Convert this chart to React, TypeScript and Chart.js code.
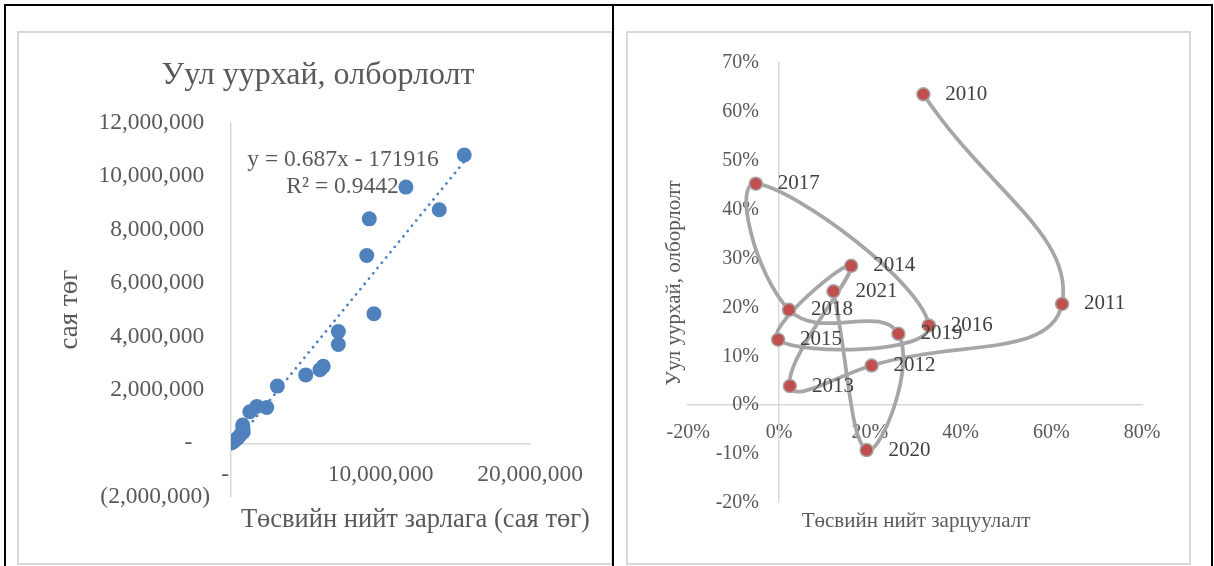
import React, { useEffect, useRef } from "react";
import { Chart, registerables } from "chart.js";

Chart.register(...registerables);

const FONT = '"Liberation Serif", "Times New Roman", serif';
const TEXT_GRAY = "#595959";
const LABEL_DARK = "#404040";
const AXIS_GRAY = "#D9D9D9";

// ---------- Left chart: Уул уурхай, олборлолт ----------
const leftTitle = "Уул уурхай, олборлолт";
const leftXTitle = "Төсвийн нийт зарлага (сая төг)";
const leftYTitle = "сая төг";
const budgetSpending = [
  15600000, 11700000, 13930000, 9250000, 9080000, 9560000, 7180000, 7180000,
  6170000, 5950000, 5000000, 3100000, 2390000, 1730000, 1260000, 780000,
  800000, 820000, 600000, 450000, 300000, 180000, 100000, 50000, 20000,
];
const miningOutput = [
  10790000, 9590000, 8740000, 8400000, 7030000, 4850000, 4180000, 3700000,
  2880000, 2750000, 2560000, 2140000, 1340000, 1380000, 1180000, 680000,
  550000, 420000, 300000, 200000, 120000, 80000, 50000, 30000, 10000,
];
const trendSlope = 0.687;
const trendIntercept = -171916;
const trendEquation = "y = 0.687x - 171916";
const trendR2 = "R² = 0.9442";
const leftXTicks = [0, 10000000, 20000000];
const leftXTickLabels = ["-  ", "10,000,000", "20,000,000"];
const leftYTicks = [-2000000, 0, 2000000, 4000000, 6000000, 8000000, 10000000, 12000000];
const leftYTickLabels = [
  "(2,000,000)", "-   ", "2,000,000 ", "4,000,000 ", "6,000,000 ", "8,000,000 ", "10,000,000 ", "12,000,000 ",
];

// ---------- Right chart: growth rates by year ----------
const years = ["2010", "2011", "2012", "2013", "2014", "2015", "2016", "2017", "2018", "2019", "2020", "2021"];
const spendingGrowth = [31.8, 62.35, 20.4, 2.4, 15.9, -0.2, 33.0, -5.1, 2.2, 26.3, 19.3, 12.0];
const miningGrowth = [63.6, 20.7, 8.1, 3.9, 28.5, 13.4, 16.3, 45.3, 19.5, 14.6, -9.2, 23.3];
const rightXTitle = "Төсвийн нийт зарцуулалт";
const rightYTitle = "Уул уурхай, олборлолт";
const rightXTicks = [-20, 0, 20, 40, 60, 80];
const rightYTicks = [-20, -10, 0, 10, 20, 30, 40, 50, 60, 70];

type TextItem = {
  text: string;
  x: number;
  y: number;
  size: number;
  color: string;
  rotate?: number;
  align?: CanvasTextAlign;
};

function textPlugin(id: string, items: TextItem[]) {
  return {
    id,
    afterDraw(chart: any) {
      const ctx = chart.ctx as CanvasRenderingContext2D;
      for (const it of items) {
        ctx.save();
        ctx.translate(it.x, it.y);
        if (it.rotate) ctx.rotate(it.rotate);
        ctx.font = `normal ${it.size}px ${FONT}`;
        ctx.fillStyle = it.color;
        ctx.textAlign = it.align || "center";
        ctx.textBaseline = "middle";
        ctx.fillText(it.text, 0, 0);
        ctx.restore();
      }
    },
  };
}

const dataLabelPlugin = {
  id: "yearLabels",
  afterDatasetsDraw(chart: any) {
    const ctx = chart.ctx as CanvasRenderingContext2D;
    const meta = chart.getDatasetMeta(0);
    ctx.save();
    ctx.font = `normal 21px ${FONT}`;
    ctx.fillStyle = LABEL_DARK;
    ctx.textAlign = "left";
    ctx.textBaseline = "middle";
    meta.data.forEach((pt: any, i: number) => {
      ctx.fillText(years[i], pt.x + 22, pt.y);
    });
    ctx.restore();
  },
};

function LeftChart() {
  const ref = useRef<HTMLCanvasElement | null>(null);
  useEffect(() => {
    if (!ref.current) return;
    const points = budgetSpending.map((x, i) => ({ x, y: miningOutput[i] }));
    const xMin = Math.min(...budgetSpending);
    const xMax = Math.max(...budgetSpending);
    const trend = [
      { x: xMin, y: trendSlope * xMin + trendIntercept },
      { x: xMax, y: trendSlope * xMax + trendIntercept },
    ];
    const chart = new Chart(ref.current, {
      type: "scatter",
      data: {
        datasets: [
          {
            data: points,
            backgroundColor: "#4F81BD",
            borderColor: "#4F81BD",
            pointRadius: 7.5,
            borderWidth: 0,
            order: 2,
          },
          {
            data: trend,
            showLine: true,
            borderColor: "#4F81BD",
            borderWidth: 2.75,
            borderDash: [0.01, 6.8],
            borderCapStyle: "round",
            pointRadius: 0,
            tension: 0,
            order: 1,
          } as any,
        ],
      },
      options: {
        responsive: false,
        animation: false,
        devicePixelRatio: 1,
        layout: { padding: { left: 6, right: 0, top: 0, bottom: 68.3 } },
        plugins: {
          legend: { display: false },
          tooltip: { enabled: false },
          title: {
            display: true,
            text: leftTitle,
            color: TEXT_GRAY,
            font: { family: FONT, size: 32, weight: "normal" },
            padding: { top: 25, bottom: 28.3 },
          },
        },
        scales: {
          x: {
            type: "linear",
            min: 0,
            max: 20000000,
            position: { y: 0 } as any,
            afterFit: (s: any) => {
              s.height = 0;
            },
            grid: { display: false, drawTicks: false },
            border: { display: true, color: AXIS_GRAY, width: 1.5 },
            ticks: {
              stepSize: 10000000,
              padding: 17.5,
              color: TEXT_GRAY,
              autoSkip: false,
              maxRotation: 0,
              font: { family: FONT, size: 23.5 },
              callback: (v: any) => {
                const i = leftXTicks.indexOf(Number(v));
                return i >= 0 ? leftXTickLabels[i] : "";
              },
            },
          },
          y: {
            type: "linear",
            min: -2000000,
            max: 12000000,
            position: "left",
            afterFit: (s: any) => {
              s.width = 208;
            },
            grid: { display: false, drawTicks: false },
            border: { display: true, color: AXIS_GRAY, width: 1.5 },
            ticks: {
              stepSize: 2000000,
              padding: 21,
              color: TEXT_GRAY,
              autoSkip: false,
              font: { family: FONT, size: 23.5 },
              callback: (v: any) => {
                const i = leftYTicks.indexOf(Number(v));
                return i >= 0 ? leftYTickLabels[i] : "";
              },
            },
            title: {
              display: true,
              text: leftYTitle,
              color: TEXT_GRAY,
              font: { family: FONT, size: 27 },
              padding: { top: 30.6, bottom: 0 },
            },
          },
          rightSpace: {
            type: "linear",
            position: "right",
            min: 0,
            max: 1,
            afterFit: (s: any) => {
              s.width = 83;
            },
            grid: { display: false, drawTicks: false },
            border: { display: false },
            ticks: { display: false },
          },
        },
      },
      plugins: [
        textPlugin("leftTexts", [
          { text: leftXTitle, x: 398.4, y: 489, size: 26.5, color: TEXT_GRAY },
          { text: trendEquation, x: 326, y: 129, size: 23.5, color: TEXT_GRAY },
          { text: trendR2, x: 325.5, y: 155.7, size: 23.5, color: TEXT_GRAY },
        ]),
      ],
    } as any);
    return () => chart.destroy();
  }, []);
  return (
    <canvas
      ref={ref}
      width={596}
      height={534}
      style={{ position: "absolute", left: 17, top: 31, width: 596, height: 534 }}
    />
  );
}

function RightChart() {
  const ref = useRef<HTMLCanvasElement | null>(null);
  useEffect(() => {
    if (!ref.current) return;
    const points = spendingGrowth.map((x, i) => ({ x, y: miningGrowth[i] }));
    const chart = new Chart(ref.current, {
      type: "scatter",
      data: {
        datasets: [
          {
            data: points,
            showLine: true,
            borderColor: "#A6A6A6",
            borderWidth: 3.75,
            tension: 0.45,
            pointRadius: 6.5,
            pointBackgroundColor: "#C0504D",
            pointBorderColor: "#A6A6A6",
            pointBorderWidth: 1.5,
          } as any,
        ],
      },
      options: {
        responsive: false,
        animation: false,
        devicePixelRatio: 1,
        layout: { padding: { left: 62.2, right: 48.8, top: 30.8, bottom: 62.1 } },
        plugins: {
          legend: { display: false },
          tooltip: { enabled: false },
        },
        scales: {
          x: {
            type: "linear",
            min: -20,
            max: 80,
            position: { y: 0 } as any,
            afterFit: (s: any) => {
              s.height = 0;
            },
            grid: { display: false, drawTicks: false },
            border: { display: true, color: AXIS_GRAY, width: 1.5 },
            ticks: {
              stepSize: 20,
              padding: 15.8,
              color: TEXT_GRAY,
              autoSkip: false,
              maxRotation: 0,
              font: { family: FONT, size: 20 },
              callback: (v: any) => (rightXTicks.includes(Math.round(Number(v))) ? `${Math.round(Number(v))}%` : ""),
            },
          },
          y: {
            type: "linear",
            min: -20,
            max: 70,
            position: { x: 0 } as any,
            afterFit: (s: any) => {
              s.width = 0;
            },
            grid: { display: false, drawTicks: false },
            border: { display: true, color: AXIS_GRAY, width: 1.5 },
            ticks: {
              stepSize: 10,
              padding: 20,
              color: TEXT_GRAY,
              autoSkip: false,
              font: { family: FONT, size: 20 },
              // trailing spaces keep the labels off the axis line (position-by-value axes ignore padding)
              callback: (v: any) => (rightYTicks.includes(Math.round(Number(v))) ? `${Math.round(Number(v))}%    ` : ""),
            },
          },
        },
      },
      plugins: [
        dataLabelPlugin,
        textPlugin("rightTexts", [
          { text: rightXTitle, x: 290, y: 490.5, size: 21, color: TEXT_GRAY },
          { text: rightYTitle, x: 48.2, y: 252, size: 21, color: TEXT_GRAY, rotate: -Math.PI / 2 },
        ]),
      ],
    } as any);
    return () => chart.destroy();
  }, []);
  return (
    <canvas
      ref={ref}
      width={565}
      height={534}
      style={{ position: "absolute", left: 626, top: 31, width: 565, height: 534 }}
    />
  );
}

export default function App() {
  const line = (left: number, top: number, width: number, height: number) => (
    <div style={{ position: "absolute", left, top, width, height, background: "#000" }} />
  );
  return (
    <div
      style={{
        position: "absolute",
        left: 0,
        top: 0,
        width: 1214,
        height: 566,
        background: "#fff",
        overflow: "hidden",
      }}
    >
      <div
        style={{
          position: "absolute",
          left: 17,
          top: 31,
          width: 596,
          height: 534,
          boxSizing: "border-box",
          border: `2px solid ${AXIS_GRAY}`,
        }}
      />
      <div
        style={{
          position: "absolute",
          left: 626,
          top: 31,
          width: 565,
          height: 534,
          boxSizing: "border-box",
          border: `2px solid ${AXIS_GRAY}`,
        }}
      />
      <LeftChart />
      <RightChart />
      {line(4, 4, 1209, 2)}
      {line(4, 4, 2, 562)}
      {line(612, 4, 2, 562)}
      {line(1211, 4, 2, 562)}
    </div>
  );
}
